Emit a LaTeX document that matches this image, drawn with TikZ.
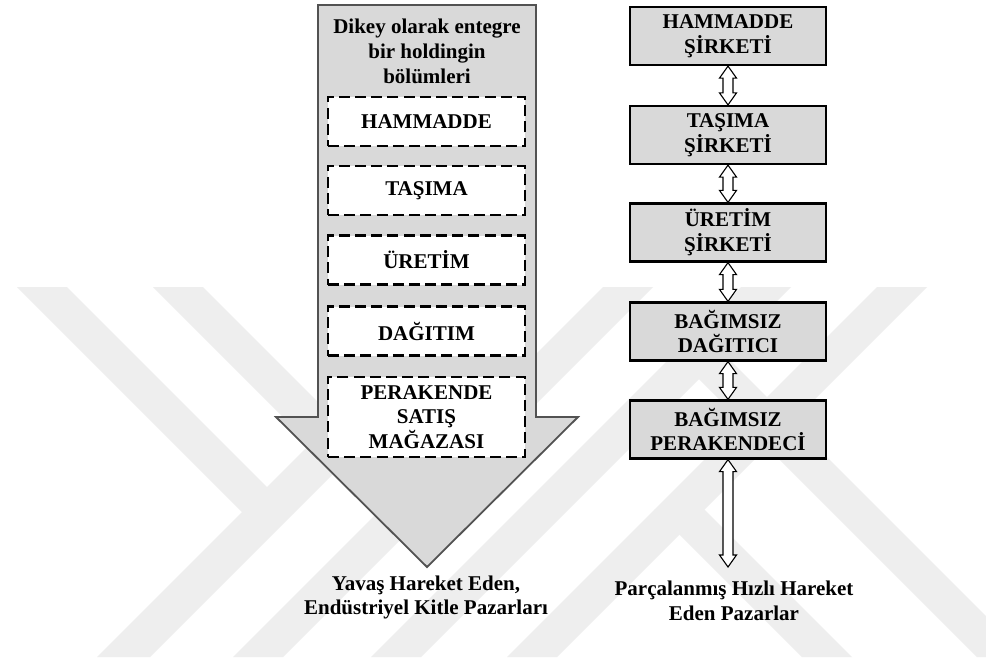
\documentclass[tikz,border=0pt]{standalone}
\usepackage{fontspec}
\setmainfont{Liberation Serif}
\usetikzlibrary{calc}

\definecolor{wmark}{gray}{0.935}
\definecolor{panel}{gray}{0.85}
\definecolor{rim}{gray}{0.32}

\tikzset{
  every node/.style={font=\bfseries\fontsize{10.5}{12.4}\selectfont, align=center, inner sep=0pt},
  stagebox/.style={draw=black, line width=1.1pt, dash pattern=on 5.5pt off 2.6pt,
    fill=white, minimum width=98.5pt, minimum height=24.5pt},
  firmbox/.style={draw=black, line width=1.1pt, fill=panel,
    minimum width=98pt, minimum height=29pt},
  hollow/.style={draw=black, line width=0.55pt, fill=white, line join=miter},
  bigarrow/.style={draw=rim, line width=0.9pt, fill=panel, line join=miter},
  wm/.style={fill=wmark},
}

% hollow double-headed arrow from the point #1 (top) to the point #2 (bottom)
\newcommand\twoway[2]{%
  \path[hollow] (#1) -- ($(#1)+(8.5,12)$) -- ($(#1)+(5,12)$)
    -- ($(#2)+(5,-12)$) -- ($(#2)+(8.5,-12)$) -- (#2)
    -- ($(#2)+(-8.5,-12)$) -- ($(#2)+(-5,-12)$)
    -- ($(#1)+(-5,12)$) -- ($(#1)+(-8.5,12)$) -- cycle;}

\begin{document}
\begin{tikzpicture}[x=0.5pt, y=-0.5pt]
\useasboundingbox (0,0) rectangle (986,660);
\fill[white] (0,0) rectangle (986,660);

% faint chevron bands in the background
\begin{scope}
  \clip (0,0) rectangle (986,660);
  \fill[wm] (17,287) -- (67,287) -- (293.5,513.5) -- (242,512) -- cycle;
  \fill[wm] (97,657) -- (150,657) -- (520,287) -- (467,287) -- cycle;
  \fill[wm] (153,287) -- (203,287) -- (428,512) -- (378,512) -- cycle;
  \fill[wm] (233,657) -- (283,657) -- (653,287) -- (603,287) -- cycle;
  \fill[wm] (507,657) -- (557,657) -- (927,287) -- (877,287) -- cycle;
  \fill[wm] (654.5,509.5) -- (704.5,509.5) -- (852,657) -- (802,657) -- cycle;
  \fill[wm] (371,657) -- (421,657) -- (791,287) -- (741,287) -- cycle;
  \fill[wm] (674,354) -- (724,354) -- (1027,657) -- (977,657) -- cycle;
\end{scope}

% vertically integrated holding: one big downward arrow
\path[bigarrow] (318,5) -- (536,5) -- (536,417) -- (578,417) -- (427,567)
  -- (276,417) -- (318,417) -- cycle;
\node (head) at (427,51.5) {Dikey olarak entegre\\bir holdingin\\bölümleri};

\node[stagebox] (s1) at (426.5,121.5) {HAMMADDE};
\node[stagebox] (s2) at (426.5,190.5) {TAŞIMA};
\node[stagebox] (s3) at (426.5,260) {ÜRETİM};
\node[stagebox] (s4) at (426.5,331) {DAĞITIM};
\node[stagebox, minimum height=40pt] (s5) at (426.5,417) {PERAKENDE\\SATIŞ\\MAĞAZASI};

\node (slow) at (426,597.5) {Yavaş Hareket Eden,\\Endüstriyel Kitle Pazarları};

% independent firms chained by two-way links
\node[firmbox] (r1) at (728,36)    {HAMMADDE\\ŞİRKETİ};
\node[firmbox] (r2) at (728,135)   {TAŞIMA\\ŞİRKETİ};
\node[firmbox] (r3) at (728,232.5) {ÜRETİM\\ŞİRKETİ};
\node[firmbox] (r4) at (728,331.5) {BAĞIMSIZ\\DAĞITICI};
\node[firmbox] (r5) at (728,429.5) {BAĞIMSIZ\\PERAKENDECİ};

\coordinate (mkt) at (728,567);
\node (fast) at (734,600.5) {Parçalanmış Hızlı Hareket\\Eden Pazarlar};

\twoway{r1.south}{r2.north}
\twoway{r2.south}{r3.north}
\twoway{r3.south}{r4.north}
\twoway{r4.south}{r5.north}
\twoway{r5.south}{mkt}
\end{tikzpicture}
\end{document}
